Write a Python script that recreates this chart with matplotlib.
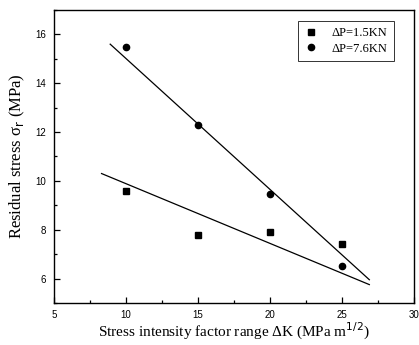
import matplotlib.pyplot as plt
from matplotlib.ticker import MultipleLocator

# measured points
dk = [10, 15, 20, 25]
stress_15kn = [9.6, 7.8, 7.9, 7.4]
stress_76kn = [15.5, 12.3, 9.45, 6.5]

# straight fit lines as drawn (end points)
fit_15kn_x = [8.3, 26.9]
fit_15kn_y = [10.3, 5.75]
fit_76kn_x = [8.9, 26.9]
fit_76kn_y = [15.6, 5.95]

labels = ["ΔP=1.5KN", "ΔP=7.6KN"]

serif = "Liberation Serif"
sans = "Liberation Sans"

fig = plt.figure(figsize=(4.19, 3.45), dpi=100)
ax = fig.add_axes([0.129, 0.122, 0.859, 0.849])

ax.plot(dk, stress_15kn, "s", color="black", markersize=4.5, label=labels[0])
ax.plot(dk, stress_76kn, "o", color="black", markersize=4.5, label=labels[1])
ax.plot(fit_15kn_x, fit_15kn_y, color="black", linewidth=0.9)
ax.plot(fit_76kn_x, fit_76kn_y, color="black", linewidth=0.9)

ax.set_xlim(5, 30)
ax.set_ylim(5, 17)
ax.xaxis.set_major_locator(MultipleLocator(5))
ax.xaxis.set_minor_locator(MultipleLocator(2.5))
ax.yaxis.set_major_locator(MultipleLocator(2))
ax.yaxis.set_minor_locator(MultipleLocator(1))
ax.tick_params(which="both", direction="in", top=False, right=False, width=0.9)
ax.tick_params(which="major", length=4, labelsize=7, pad=6)
ax.tick_params(axis="x", which="major", pad=5)
ax.tick_params(which="minor", length=2.5)
for lab in ax.get_xticklabels() + ax.get_yticklabels():
    lab.set_family(sans)
for sp in ax.spines.values():
    sp.set_linewidth(1.0)

ax.set_xlabel("Stress intensity factor range ΔK (MPa m$^{1/2}$)", family=serif, fontsize=11, labelpad=1)
ax.set_ylabel("Residual stress σ$_\\mathrm{r}$ (MPa)", family=serif, fontsize=12, labelpad=6)

leg = ax.legend(loc="upper right", bbox_to_anchor=(0.962, 0.985), prop={"family": serif, "size": 9},
                frameon=True, fancybox=False, edgecolor="black", handletextpad=1.2,
                handlelength=1.0, borderpad=0.5, labelspacing=0.3)
leg.get_frame().set_linewidth(0.7)

fig.savefig("out.png", dpi=100)
